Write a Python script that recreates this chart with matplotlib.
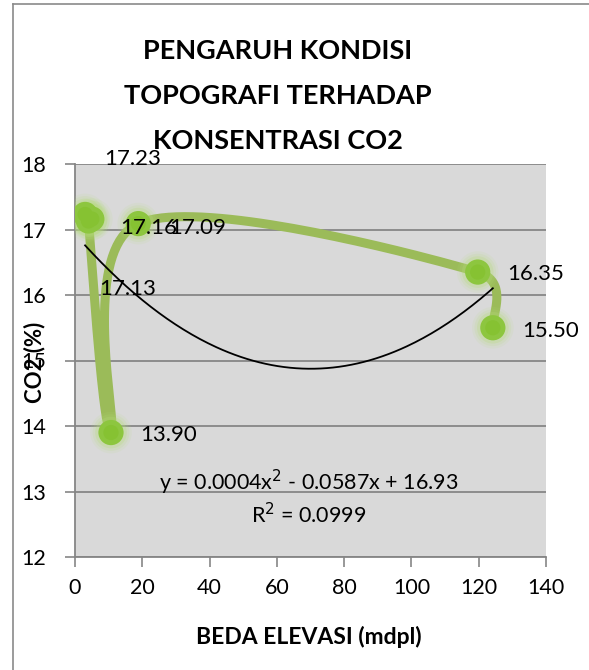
import numpy as np
import matplotlib
matplotlib.use("Agg")
import matplotlib.pyplot as plt

plt.rcParams['font.family'] = ['Lato', 'DejaVu Sans']

# data (order = order the smooth line goes through)
elev = [3.0, 5.0, 4.0, 10.7, 18.8, 119.7, 124.2]
co2 = [17.23, 17.16, 17.13, 13.90, 17.09, 16.35, 15.50]
labels = ['17.23', '17.16', '17.13', '13.90', '17.09', '16.35', '15.50']
# label offsets in pixels (dx right, dy up)
lab_off = [(48, 55), (57, -9), (39, -68), (58, -2), (59, -4), (58, -2), (58, -3)]

# polynomial trend shown on the chart (coefficients as drawn, text as printed)
trend_coef = [0.000419, -0.0587, 16.93]
trend_txt = 'y = 0.0004x$^2$ - 0.0587x + 16.93'
r2_txt = 'R$^2$ = 0.0999'

title = 'PENGARUH KONDISI\nTOPOGRAFI TERHADAP\nKONSENTRASI CO2'
xticks = [0, 20, 40, 60, 80, 100, 120, 140]
yticks = [12, 13, 14, 15, 16, 17, 18]

W, H = 589, 670
fig = plt.figure(figsize=(W / 100, H / 100), dpi=100)
fig.patch.set_facecolor('white')

# chart border (only left and top edges visible)
fig.add_artist(plt.Line2D([13 / W, 13 / W], [0, 1 - 4 / H], color='#8a8a8a', lw=1.2))
fig.add_artist(plt.Line2D([13 / W, 1], [1 - 4 / H, 1 - 4 / H], color='#8a8a8a', lw=1.2))

ax = fig.add_axes([75 / W, 1 - 557 / H, (546 - 75) / W, (557 - 164) / H])
ax.set_facecolor('#d9d9d9')
ax.set_xlim(0, 140)
ax.set_ylim(12, 18)
ax.set_xticks(xticks)
ax.set_yticks(yticks)
ax.tick_params(axis='both', direction='out', length=7, width=1.2, color='#868686',
               labelsize=15.5, labelcolor='black')
ax.tick_params(axis='x', pad=8)
ax.tick_params(axis='y', pad=14)
ax.grid(axis='y', color='#868686', lw=1.3)
ax.set_axisbelow(True)
for s in ['top', 'right']:
    ax.spines[s].set_visible(False)
for s in ['left', 'bottom']:
    ax.spines[s].set_color('#868686')
    ax.spines[s].set_linewidth(1.3)

# Excel-like smoothed line: bezier in display space, handles limited by segment length
fig.canvas.draw()
pts = ax.transData.transform(np.column_stack([elev, co2]))
n = len(pts)
curve = [pts[0]]
for i in range(n - 1):
    p0 = pts[max(i - 1, 0)]
    p1 = pts[i]
    p2 = pts[i + 1]
    p3 = pts[min(i + 2, n - 1)]
    seg_len = np.hypot(*(p2 - p1))
    t1 = (p2 - p0) / 6.0
    t2 = (p3 - p1) / 6.0
    lim = seg_len * 0.6
    if np.hypot(*t1) > lim:
        t1 = t1 / np.hypot(*t1) * lim
    if np.hypot(*t2) > lim:
        t2 = t2 / np.hypot(*t2) * lim
    c1 = p1 + t1
    c2 = p2 - t2
    t = np.linspace(0, 1, 40)[1:, None]
    seg = ((1 - t) ** 3) * p1 + 3 * ((1 - t) ** 2) * t * c1 + 3 * (1 - t) * t ** 2 * c2 + t ** 3 * p2
    curve.extend(seg)
curve = ax.transData.inverted().transform(np.array(curve))
ax.plot(curve[:, 0], curve[:, 1], color='#9bbb59', lw=6.5, solid_capstyle='round', zorder=3)

# glowing markers
for s, a in [(900, 0.10), (700, 0.15), (520, 0.25)]:
    ax.scatter(elev, co2, s=s, color='#b5dc7a', alpha=a, edgecolors='none', zorder=4)
ax.scatter(elev, co2, s=330, color='#8dc63f', edgecolors='none', zorder=5)
ax.scatter(elev, co2, s=120, color='#86c232', edgecolors='none', zorder=5)

# trend line
xt = np.linspace(min(elev), max(elev), 200)
ax.plot(xt, np.polyval(trend_coef, xt), color='black', lw=1.3, zorder=6)

# data labels
for x, y, lab, (dx, dy) in zip(elev, co2, labels, lab_off):
    ax.annotate(lab, (x, y), xytext=(dx, dy), textcoords='offset pixels',
                ha='center', va='center', fontsize=16, zorder=7, annotation_clip=False)

fig.text(309 / W, 1 - 482 / H, trend_txt, ha='center', va='center', fontsize=15.5)
fig.text(309 / W, 1 - 515 / H, r2_txt, ha='center', va='center', fontsize=15.5)

fig.text(278 / W, 1 - 96 / H, title, ha='center', va='center', fontsize=19.5,
         fontweight='bold', linespacing=2.05)
fig.text(309 / W, 1 - 637 / H, 'BEDA ELEVASI (mdpl)', ha='center', va='center',
         fontsize=16.5, fontweight='bold')
fig.text(35 / W, 1 - 362 / H, 'CO2 (%)', ha='center', va='center', rotation=90,
         fontsize=16, fontweight='bold')

fig.savefig('out.png', dpi=100)
